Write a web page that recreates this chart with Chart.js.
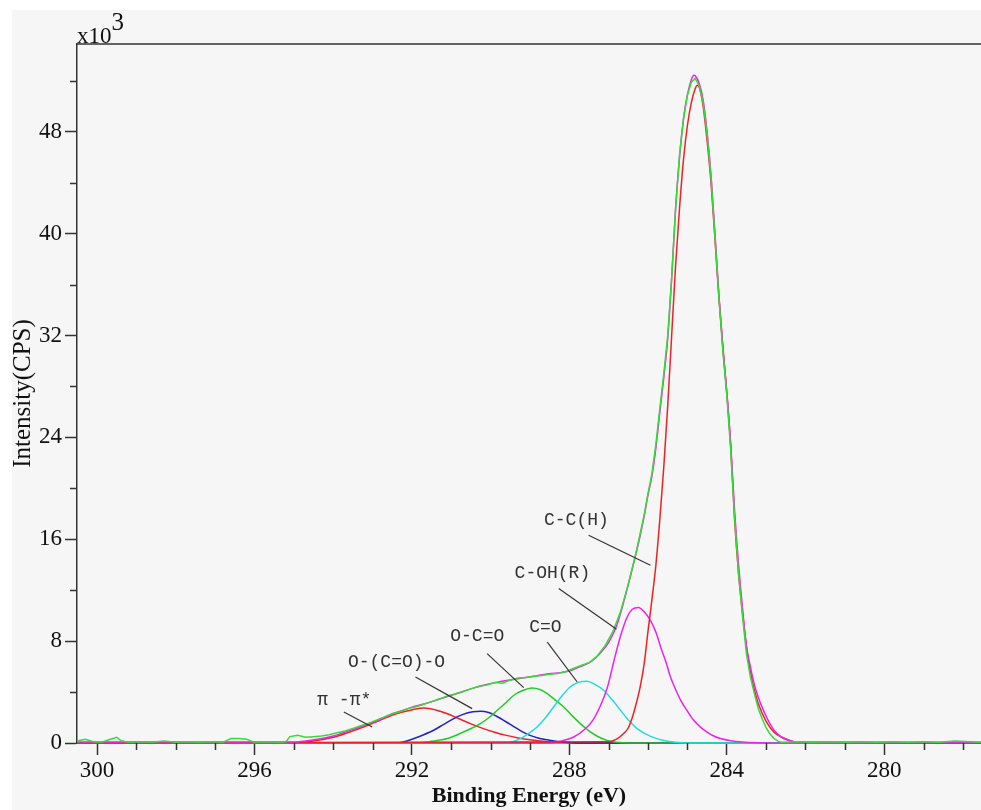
<!DOCTYPE html>
<html>
<head>
<meta charset="utf-8">
<script src="https://cdn.jsdelivr.net/npm/chart.js@4.4.0/dist/chart.umd.min.js"></script>
<style>
  html, body { margin: 0; padding: 0; background: #ffffff; }
  canvas { display: block; }
</style>
</head>
<body>
<canvas id="grafico-xps" width="981" height="810"></canvas>
<script>
// --- Dados ---
// dados brutos (verde)
const rawEnergy = [300.51, 300.3, 300.1, 299.9, 299.7, 299.5, 299.4, 299.2, 298.9, 298.6, 298.3, 298.0, 297.7, 297.4, 297.1, 296.8, 296.6, 296.4, 296.2, 296.0, 295.7, 295.4, 295.2, 295.1, 294.9, 294.7, 294.5, 294.3, 294.1, 293.9, 293.7, 293.5, 293.3, 293.1, 292.9, 292.7, 292.5, 292.3, 292.1, 291.9, 291.7, 291.5, 291.3, 291.1, 290.9, 290.7, 290.5, 290.3, 290.1, 289.9, 289.7, 289.5, 289.3, 289.1, 288.9, 288.7, 288.5, 288.3, 288.1, 287.9, 287.7, 287.5, 287.3, 287.1, 286.9, 286.7, 286.5, 286.3, 286.1, 286.0, 285.9, 285.8, 285.7, 285.6, 285.5, 285.4, 285.3, 285.2, 285.1, 285.0, 284.9, 284.8, 284.7, 284.6, 284.5, 284.4, 284.3, 284.2, 284.1, 284.0, 283.9, 283.8, 283.7, 283.6, 283.5, 283.4, 283.3, 283.2, 283.1, 283.0, 282.9, 282.8, 282.7, 282.6, 282.2, 281.8, 281.4, 281.0, 280.6, 280.2, 279.8, 279.4, 279.0, 278.6, 278.2, 277.8, 277.54];
const rawCounts = [0.15, 0.3, 0.1, 0.05, 0.25, 0.45, 0.2, 0.05, 0.1, 0.05, 0.15, 0.05, 0.1, 0.05, 0.1, 0.05, 0.35, 0.35, 0.3, 0.05, 0.1, 0.05, 0.1, 0.5, 0.6, 0.45, 0.5, 0.55, 0.65, 0.8, 0.95, 1.15, 1.35, 1.55, 1.8, 2.05, 2.3, 2.45, 2.7, 2.85, 3.05, 3.25, 3.45, 3.7, 3.85, 4.05, 4.25, 4.45, 4.55, 4.75, 4.7, 4.95, 5.1, 5.15, 5.25, 5.3, 5.4, 5.45, 5.6, 5.85, 6.1, 6.3, 6.8, 7.6, 8.7, 10.3, 12.5, 15.0, 17.9, 19.6, 21.2, 23.5, 26.3, 29.0, 32.0, 36.5, 42.0, 46.2, 49.0, 50.9, 51.9, 52.2, 51.6, 50.3, 47.8, 44.4, 39.8, 35.0, 30.8, 27.4, 23.0, 17.6, 13.3, 10.0, 7.0, 5.2, 3.9, 2.7, 1.9, 1.2, 0.7, 0.35, 0.15, 0.05, 0.1, 0.05, 0.1, 0.05, 0.1, 0.05, 0.1, 0.05, 0.1, 0.05, 0.15, 0.1, 0.05];

// envelope ajustado (magenta)
const fitEnergy = [300.51, 295.0, 294.5, 294.0, 293.6, 293.2, 292.8, 292.5, 292.2, 291.9, 291.6, 291.3, 291.0, 290.7, 290.4, 290.1, 289.8, 289.5, 289.2, 288.9, 288.6, 288.3, 288.0, 287.8, 287.6, 287.4, 287.2, 287.0, 286.8, 286.6, 286.4, 286.2, 286.1, 286.0, 285.9, 285.8, 285.7, 285.6, 285.5, 285.4, 285.3, 285.2, 285.1, 285.0, 284.9, 284.84, 284.8, 284.7, 284.6, 284.5, 284.4, 284.3, 284.2, 284.1, 284.0, 283.9, 283.8, 283.7, 283.6, 283.5, 283.4, 283.3, 283.2, 283.1, 283.0, 282.9, 282.8, 282.7, 282.6, 282.5, 282.3, 282.1, 277.54];
const fitCounts = [0.08, 0.08, 0.25, 0.55, 0.95, 1.4, 1.85, 2.3, 2.6, 2.9, 3.15, 3.45, 3.75, 4.05, 4.35, 4.6, 4.8, 4.95, 5.1, 5.25, 5.4, 5.5, 5.65, 5.9, 6.15, 6.5, 7.1, 7.9, 9.2, 11.3, 13.7, 16.3, 17.8, 19.5, 21.0, 23.2, 26.0, 28.7, 31.8, 36.5, 42.0, 46.0, 49.0, 50.9, 52.1, 52.45, 52.4, 51.8, 50.5, 48.0, 44.6, 40.0, 35.2, 31.0, 27.6, 23.5, 18.2, 14.0, 10.6, 7.6, 6.0, 4.6, 3.6, 2.8, 2.1, 1.5, 1.0, 0.7, 0.45, 0.3, 0.1, 0.06, 0.06];

// componentes
const ccEnergy = [300.51, 287.0, 286.8, 286.6, 286.5, 286.4, 286.3, 286.2, 286.1, 286.0, 285.9, 285.8, 285.7, 285.6, 285.5, 285.4, 285.3, 285.2, 285.1, 285.0, 284.9, 284.8, 284.75, 284.7, 284.6, 284.5, 284.4, 284.3, 284.2, 284.1, 284.0, 283.9, 283.8, 283.7, 283.6, 283.5, 283.4, 283.3, 283.2, 283.0, 282.8, 282.6, 282.4, 282.2, 277.54];
const ccCounts = [0, 0.1, 0.3, 0.8, 1.2, 2.0, 3.1, 4.4, 6.2, 8.8, 11.3, 14.0, 17.6, 21.7, 26.5, 32.0, 37.5, 42.0, 45.8, 48.5, 50.3, 51.4, 51.66, 51.5, 50.0, 47.3, 44.0, 39.6, 35.0, 31.2, 27.5, 23.3, 17.5, 13.3, 10.2, 7.6, 5.6, 4.2, 3.1, 1.7, 0.85, 0.45, 0.2, 0.05, 0];

const cohEnergy = [300.51, 288.5, 288.2, 287.9, 287.6, 287.4, 287.2, 287.04, 286.87, 286.7, 286.53, 286.4, 286.24, 286.1, 285.94, 285.8, 285.68, 285.55, 285.43, 285.3, 285.17, 285.0, 284.84, 284.67, 284.5, 284.33, 284.16, 283.9, 283.6, 283.2, 282.8, 277.54];
const cohCounts = [0, 0, 0.15, 0.45, 1.1, 1.8, 3.0, 4.3, 6.4, 8.4, 9.9, 10.5, 10.65, 10.3, 9.64, 8.7, 7.54, 6.4, 5.18, 4.2, 3.35, 2.5, 1.78, 1.25, 0.86, 0.55, 0.35, 0.18, 0.08, 0.02, 0, 0];

const coEnergy = [300.51, 289.6, 289.4, 289.24, 289.03, 288.82, 288.6, 288.4, 288.2, 287.98, 287.75, 287.55, 287.35, 287.13, 286.9, 286.7, 286.5, 286.28, 286.05, 285.85, 285.6, 285.3, 285.0, 277.54];
const coCounts = [0, 0, 0.15, 0.35, 0.75, 1.26, 2.0, 2.83, 3.65, 4.4, 4.78, 4.85, 4.6, 4.14, 3.35, 2.57, 1.8, 1.13, 0.7, 0.42, 0.2, 0.06, 0, 0];

const ocoEnergy = [300.51, 291.9, 291.5, 291.1, 290.7, 290.26, 290.0, 289.83, 289.6, 289.41, 289.2, 288.95, 288.75, 288.56, 288.35, 288.14, 287.93, 287.72, 287.5, 287.29, 287.04, 286.8, 286.5, 277.54];
const ocoCounts = [0, 0, 0.13, 0.35, 0.85, 1.52, 2.1, 2.57, 3.2, 3.75, 4.1, 4.32, 4.2, 3.88, 3.35, 2.83, 2.15, 1.52, 0.95, 0.53, 0.2, 0.06, 0, 0];

const carbEnergy = [300.51, 292.4, 292.2, 291.95, 291.7, 291.45, 291.2, 290.95, 290.7, 290.45, 290.26, 290.05, 289.85, 289.6, 289.4, 289.2, 289.0, 288.8, 288.55, 288.3, 288.0, 287.7, 277.54];
const carbCounts = [0, 0, 0.1, 0.35, 0.65, 1.0, 1.45, 1.9, 2.25, 2.45, 2.5, 2.4, 2.1, 1.65, 1.26, 0.9, 0.6, 0.4, 0.25, 0.12, 0.04, 0, 0];

const piEnergy = [300.51, 295.0, 294.5, 294.0, 293.6, 293.2, 292.8, 292.4, 292.0, 291.7, 291.4, 291.1, 290.8, 290.5, 290.2, 289.9, 289.6, 289.3, 289.0, 288.6, 288.2, 287.8, 277.54];
const piCounts = [0, 0, 0.15, 0.45, 0.85, 1.3, 1.8, 2.3, 2.6, 2.75, 2.6, 2.3, 1.9, 1.5, 1.15, 0.85, 0.6, 0.4, 0.25, 0.12, 0.05, 0, 0];

// eixos
const xTickValues = [300, 296, 292, 288, 284, 280];
const yTickValues = [0, 8, 16, 24, 32, 40, 48];

// rótulos das componentes (texto + linha guia, em coordenadas do gráfico)
const rotulos = [
  { texto: 'C-C(H)',    e: 287.82, v: 17.49, de: [287.51, 16.32], ate: [285.94, 13.96] },
  { texto: 'C-OH(R)',   e: 288.43, v: 13.33, de: [288.27, 12.13], ate: [286.80, 8.93] },
  { texto: 'C=O',       e: 288.61, v: 9.09,  de: [288.56, 7.93],  ate: [287.80, 4.79] },
  { texto: 'O-C=O',     e: 290.34, v: 8.38,  de: [290.09, 7.02],  ate: [289.16, 4.35] },
  { texto: 'O-(C=O)-O', e: 292.39, v: 6.34,  de: [291.91, 5.18],  ate: [290.47, 2.70] },
  { texto: 'π -π*',     e: 293.72, v: 3.35,  de: [293.73, 2.44],  ate: [293.01, 1.26] }
];

const pontos = (es, cs) => es.map((e, i) => ({ x: e, y: cs[i] }));

function serie(label, es, cs, cor, extra) {
    return Object.assign({
        label: label,
        data: pontos(es, cs),
        borderColor: cor,
        backgroundColor: cor,
        borderWidth: 1.5,
        pointRadius: 0,
        showLine: true,
        cubicInterpolationMode: 'monotone',
        clip: 4
    }, extra || {});
}

// --- Plugin de decoração: fundo, ticks menores, borda superior, expoente, rótulos ---
const decoracao = {
    id: 'decoracao',
    beforeDraw(chart) {
        const { ctx, width, height } = chart;
        ctx.save();
        ctx.fillStyle = '#ffffff';
        ctx.fillRect(0, 0, width, height);
        ctx.fillStyle = '#f6f6f6';
        ctx.fillRect(12, 10, width - 12, height - 10);
        ctx.restore();
    },
    afterDraw(chart) {
        const { ctx, chartArea, scales: { x, y } } = chart;
        ctx.save();
        ctx.strokeStyle = '#333';
        ctx.lineWidth = 1.5;
        ctx.beginPath();
        // ticks menores
        for (let e = Math.ceil(x.min); e <= x.max; e++) {
            if (e % 4 === 0) continue;
            const px = Math.round(x.getPixelForValue(e)) + 0.5;
            ctx.moveTo(px, chartArea.bottom);
            ctx.lineTo(px, chartArea.bottom + 7);
        }
        for (let v = 4; v <= y.max; v += 8) {
            const py = Math.round(y.getPixelForValue(v)) + 0.5;
            ctx.moveTo(chartArea.left - 7, py);
            ctx.lineTo(chartArea.left, py);
        }
        // borda superior
        ctx.moveTo(chartArea.left, chartArea.top);
        ctx.lineTo(chartArea.right, chartArea.top);
        ctx.stroke();

        // expoente
        ctx.fillStyle = '#111';
        ctx.textBaseline = 'alphabetic';
        ctx.textAlign = 'left';
        ctx.font = '23px "Liberation Serif"';
        ctx.fillText('x10', chartArea.left, chartArea.top - 1);
        const w = ctx.measureText('x10').width;
        ctx.font = '25px "Liberation Serif"';
        ctx.fillText('3', chartArea.left + w, chartArea.top - 14);

        // rótulos das componentes
        ctx.font = '18px "Liberation Mono"';
        ctx.fillStyle = '#333';
        ctx.textAlign = 'center';
        ctx.textBaseline = 'middle';
        ctx.lineWidth = 1.2;
        ctx.strokeStyle = '#333';
        rotulos.forEach(r => {
            ctx.fillText(r.texto, x.getPixelForValue(r.e), y.getPixelForValue(r.v));
            ctx.beginPath();
            ctx.moveTo(x.getPixelForValue(r.de[0]), y.getPixelForValue(r.de[1]));
            ctx.lineTo(x.getPixelForValue(r.ate[0]), y.getPixelForValue(r.ate[1]));
            ctx.stroke();
        });
        ctx.restore();
    }
};

const ctxXps = document.getElementById('grafico-xps').getContext('2d');
const graficoXps = new Chart(ctxXps, {
    type: 'scatter',
    data: {
        datasets: [
            serie('Raw', rawEnergy, rawCounts, '#33dd33', { cubicInterpolationMode: 'default', tension: 0 }),
            serie('Fit', fitEnergy, fitCounts, '#ee22ee'),
            serie('C-C(H)', ccEnergy, ccCounts, '#ee2222'),
            serie('C-OH(R)', cohEnergy, cohCounts, '#ee22ee'),
            serie('C=O', coEnergy, coCounts, '#22dddd'),
            serie('O-C=O', ocoEnergy, ocoCounts, '#22cc22'),
            serie('O-(C=O)-O', carbEnergy, carbCounts, '#2222cc'),
            serie('π-π*', piEnergy, piCounts, '#ee2222')
        ]
    },
    options: {
        responsive: false,
        animation: false,
        layout: { padding: { top: 44, left: 0, right: 0, bottom: 0 } },
        plugins: {
            legend: { display: false },
            tooltip: { enabled: false }
        },
        scales: {
            x: {
                type: 'linear',
                reverse: true,
                min: 277.54,
                max: 300.51,
                afterBuildTicks: axis => { axis.ticks = xTickValues.map(v => ({ value: v })); },
                afterFit: axis => { axis.height = 67; },
                grid: { display: true, drawOnChartArea: false, tickLength: 12, tickColor: '#333', tickWidth: 1.5 },
                border: { display: true, color: '#333', width: 1.5 },
                ticks: { color: '#111', padding: 2, font: { family: '"Liberation Serif"', size: 23 } },
                title: {
                    display: true,
                    text: 'Binding Energy (eV)',
                    color: '#111',
                    padding: { top: 0, bottom: 0 },
                    font: { family: '"Liberation Serif"', size: 22, weight: 'bold' }
                }
            },
            y: {
                type: 'linear',
                min: 0,
                max: 54.9,
                afterBuildTicks: axis => { axis.ticks = yTickValues.map(v => ({ value: v })); },
                afterFit: axis => { axis.width = 77; },
                grid: { display: true, drawOnChartArea: false, tickLength: 12, tickColor: '#333', tickWidth: 1.5 },
                border: { display: true, color: '#333', width: 1.5 },
                ticks: { color: '#111', padding: 3, font: { family: '"Liberation Serif"', size: 23 } },
                title: {
                    display: true,
                    text: 'Intensity(CPS)',
                    color: '#111',
                    padding: { top: 8, bottom: 0 },
                    font: { family: '"Liberation Serif"', size: 25 }
                }
            }
        }
    },
    plugins: [decoracao]
});
</script>
</body>
</html>
